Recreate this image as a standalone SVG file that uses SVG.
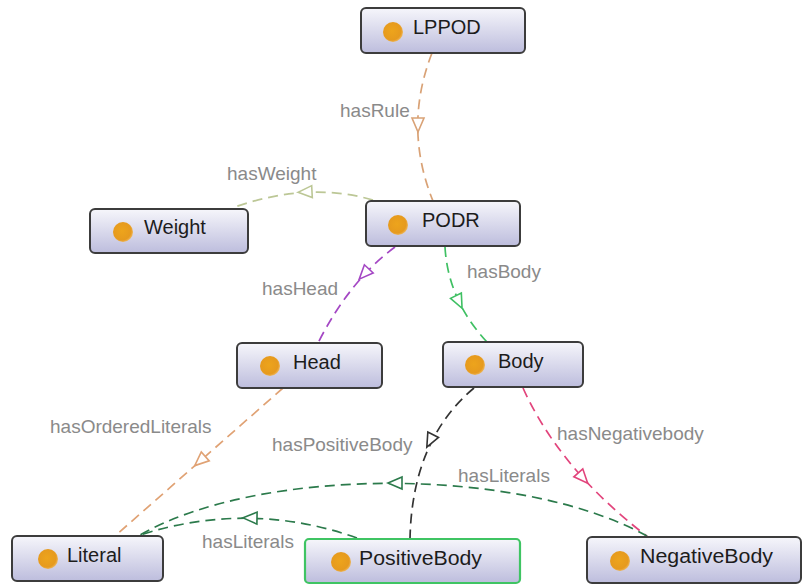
<svg xmlns="http://www.w3.org/2000/svg" xmlns:xlink="http://www.w3.org/1999/xlink" width="803" height="585" viewBox="0 0 803 585">
<defs>
<linearGradient id="g" x1="0" y1="0" x2="0" y2="1">
<stop offset="0" stop-color="#f6f6fb"/>
<stop offset="1" stop-color="#bdbddd"/>
</linearGradient>
<radialGradient id="dot" cx="0.45" cy="0.45" r="0.6">
<stop offset="0" stop-color="#eda41c"/>
<stop offset="0.75" stop-color="#e69a1e"/>
<stop offset="1" stop-color="#f0c070"/>
</radialGradient>
<path id="tri" d="M7,0 L-7,-6 L-7,6 Z"/>
<style>
.box{fill:url(#g);stroke:#3c3c3c;stroke-width:2}
.pbox{fill:url(#g);stroke:#3fc463;stroke-width:2.2}
.dot{fill:url(#dot)}
.nt{font-family:"Liberation Sans",Arial,sans-serif;font-size:20px;fill:#1c1c1c}
.lbl{font-family:"Liberation Sans",Arial,sans-serif;font-size:19px;fill:#8a8a8a}
.e{fill:none;stroke-width:1.7;stroke-dasharray:10 6}
.arr{fill:#fff;stroke-width:1.6;stroke-dasharray:none}
</style>
</defs>
<rect width="803" height="585" fill="#ffffff"/>
<g id="connectors">
<path class="e" stroke="#d9a276" d="M432,53 Q403,127 433,201"/>
<use class="arr" stroke="#d9a276" xlink:href="#tri" href="#tri" transform="translate(418,125) rotate(90)"/>
<text class="lbl" x="340" y="117">hasRule</text>

<path class="e" stroke="#bcc796" d="M373,200 Q307,181 232,208"/>
<use class="arr" stroke="#bcc796" xlink:href="#tri" href="#tri" transform="translate(305,192) rotate(177)"/>
<text class="lbl" x="227" y="180">hasWeight</text>

<path class="e" stroke="#a447c4" d="M395,247 Q350,280 318,343"/>
<use class="arr" stroke="#a447c4" xlink:href="#tri" href="#tri" transform="translate(364,274) rotate(133)"/>
<text class="lbl" x="262" y="295">hasHead</text>

<path class="e" stroke="#3fc063" d="M445,247 Q448,300 487,342"/>
<use class="arr" stroke="#3fc063" xlink:href="#tri" href="#tri" transform="translate(459,302) rotate(64)"/>
<text class="lbl" x="467" y="278">hasBody</text>

<path class="e" stroke="#e0a274" d="M283,388 L115,536"/>
<use class="arr" stroke="#e0a274" xlink:href="#tri" href="#tri" transform="translate(200,461) rotate(138.6)"/>
<text class="lbl" x="50" y="433">hasOrderedLiterals</text>

<path class="e" stroke="#333333" d="M474,388 Q412,440 410,539"/>
<use class="arr" stroke="#333333" xlink:href="#tri" href="#tri" transform="translate(430,441) rotate(117)"/>
<text class="lbl" x="272" y="451">hasPositiveBody</text>

<path class="e" stroke="#e2447c" d="M523,388 Q560,470 648,537"/>
<use class="arr" stroke="#e2447c" xlink:href="#tri" href="#tri" transform="translate(583,478) rotate(48)"/>
<text class="lbl" x="557" y="440">hasNegativebody</text>

<path class="e" stroke="#2b7a4b" d="M647,536 C520,466 260,466 140,535"/>
<use class="arr" stroke="#2b7a4b" xlink:href="#tri" href="#tri" transform="translate(395,483) rotate(180)"/>
<text class="lbl" x="458" y="482">hasLiterals</text>

<path class="e" stroke="#2b7a4b" stroke-width="2" d="M357,538 Q250,500 140,535"/>
<use class="arr" stroke="#2b7a4b" xlink:href="#tri" href="#tri" transform="translate(250,518) rotate(181)"/>
<text class="lbl" x="202" y="548">hasLiterals</text>
</g>

<g id="LPPOD">
<rect class="box" x="361" y="8" width="164" height="45" rx="5"/>
<circle class="dot" cx="393" cy="32" r="10"/>
<text class="nt" x="413" y="34">LPPOD</text>
</g>
<g id="Weight">
<rect class="box" x="90" y="209" width="158" height="44" rx="5"/>
<circle class="dot" cx="123" cy="232" r="10"/>
<text class="nt" x="144" y="234">Weight</text>
</g>
<g id="PODR">
<rect class="box" x="366" y="201" width="154" height="45" rx="5"/>
<circle class="dot" cx="398" cy="225" r="10"/>
<text class="nt" x="422" y="227">PODR</text>
</g>
<g id="Head">
<rect class="box" x="237" y="343" width="145" height="45" rx="5"/>
<circle class="dot" cx="270" cy="366" r="10"/>
<text class="nt" x="293" y="369">Head</text>
</g>
<g id="Body">
<rect class="box" x="443" y="342" width="140" height="45" rx="5"/>
<circle class="dot" cx="475" cy="365" r="10"/>
<text class="nt" x="498" y="368">Body</text>
</g>
<g id="Literal">
<rect class="box" x="12" y="536" width="151" height="45" rx="5"/>
<circle class="dot" cx="48" cy="559" r="10"/>
<text class="nt" x="67" y="562">Literal</text>
</g>
<g id="PositiveBody">
<rect class="pbox" x="305" y="539" width="215" height="44" rx="4"/>
<circle class="dot" cx="341" cy="562" r="10"/>
<text class="nt" x="359" y="565" textLength="123" lengthAdjust="spacingAndGlyphs">PositiveBody</text>
</g>
<g id="NegativeBody">
<rect class="box" x="587" y="537" width="214" height="46" rx="5"/>
<circle class="dot" cx="620" cy="561" r="10"/>
<text class="nt" x="640" y="563" textLength="133" lengthAdjust="spacingAndGlyphs">NegativeBody</text>
</g>
</svg>
